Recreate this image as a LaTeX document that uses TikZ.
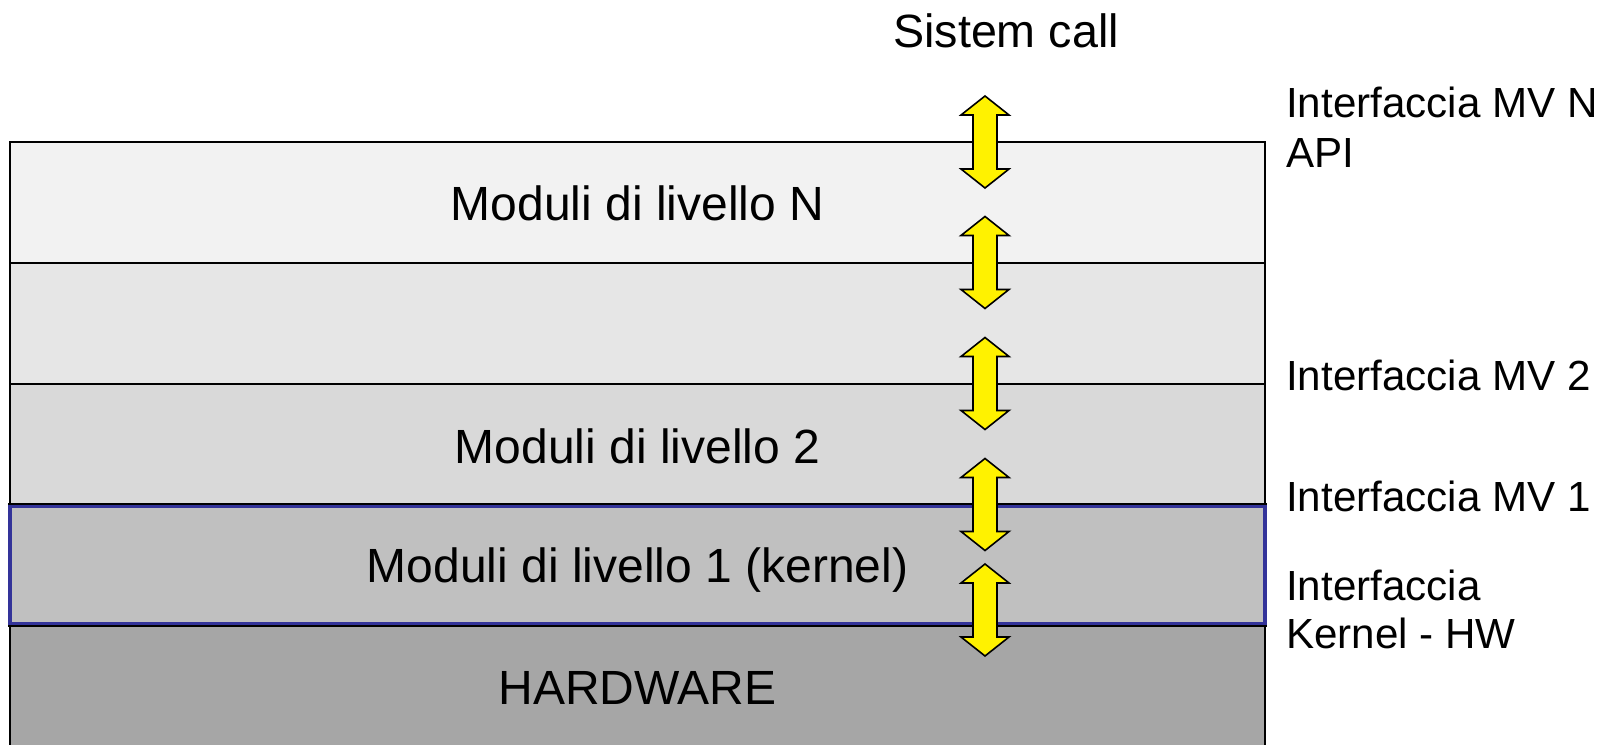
\documentclass[tikz,border=0pt]{standalone}
\usepackage{fontspec}
\setmainfont{Liberation Sans}
\definecolor{lN}{HTML}{F2F2F2}
\definecolor{lX}{HTML}{E6E6E6}
\definecolor{lTwo}{HTML}{D9D9D9}
\definecolor{lOne}{HTML}{C0C0C0}
\definecolor{lHW}{HTML}{A6A6A6}
\definecolor{kblue}{HTML}{333399}
\begin{document}
\begin{tikzpicture}[x=0.75pt,y=-0.75pt,
  layer/.style={draw=black,line width=1.5pt},
  big/.style={font=\fontsize{36pt}{42pt}\selectfont, inner sep=0pt, anchor=base},
  side/.style={font=\fontsize{31.6pt}{37pt}\selectfont, inner sep=0pt, anchor=base west},
  dbl/.style={fill=yellow,draw=black,line width=1.2pt,line join=miter},
  dblarrow/.pic={\draw[dbl] (0,-46) -- (24,-27) -- (12,-27) -- (12,27) -- (24,27) -- (0,46) -- (-24,27) -- (-12,27) -- (-12,-27) -- (-24,-27) -- cycle;}]
\useasboundingbox (0,0) rectangle (1613,745);
\fill[white] (0,0) rectangle (1613,745);
% layers
\path[layer,fill=lN] (10,142) rectangle (1265,263);
\path[layer,fill=lX] (10,263) rectangle (1265,384);
\path[layer,fill=lTwo] (10,384) rectangle (1265,505);
\path[layer,fill=lHW] (10,625) rectangle (1265,760);
\path[fill=lOne] (10,505) rectangle (1265,625);
\draw[kblue,line width=2.6pt] (10,506.5) rectangle (1265,623.5);
\draw[black,line width=1.5pt] (8,504) -- (1267,504);
\draw[black,line width=1.5pt] (8,626) -- (1267,626);
% layer texts
\node[big] (tN) at (637.5,221) {Moduli di livello N};
\node[big] (t2) at (637.5,463) {Moduli di livello 2};
\node[big] (t1) at (637.5,582) {Moduli di livello 1 (kernel)};
\node[big] (thw) at (637.5,704) {HARDWARE};
\node[big,font=\fontsize{35pt}{42pt}\selectfont] (sys) at (1006,48) {Sistem call};
% side labels
\node[side] (iN) at (1286,118) {Interfaccia MV N};
\node[side] (api) at (1286,168) {API};
\node[side] (i2) at (1286,390) {Interfaccia MV 2};
\node[side] (i1) at (1286,511) {Interfaccia MV 1};
\node[side] (ik) at (1286,600) {Interfaccia};
\node[side] (khw) at (1286,648) {Kernel - HW};
% arrows
\pic at (985,142) {dblarrow};
\pic at (985,262.5) {dblarrow};
\pic at (985,383.5) {dblarrow};
\pic at (985,504.5) {dblarrow};
\pic at (985,610) {dblarrow};
\end{tikzpicture}
\end{document}
